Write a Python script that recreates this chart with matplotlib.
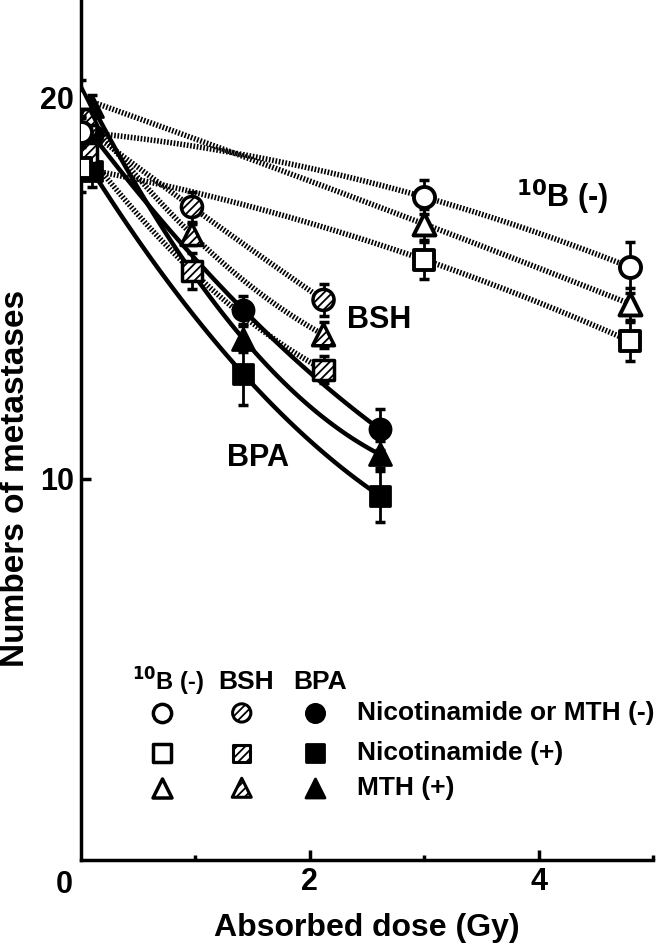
import numpy as np
import matplotlib
matplotlib.use("Agg")
import matplotlib.pyplot as plt
from matplotlib.ticker import FixedLocator, FixedFormatter, NullLocator

plt.rcParams['font.family'] = ['Liberation Sans', 'DejaVu Sans']
plt.rcParams['font.weight'] = 'bold'
plt.rcParams['hatch.linewidth'] = 1.3

# doses (Gy) for each boron group
dose_10b = [0.0, 3.0, 4.8]
dose_bsh = [0.05, 0.97, 2.12]
dose_bpa = [0.1, 1.42, 2.61]

# numbers of metastases: circle = Nicotinamide or MTH (-), square = Nicotinamide (+), triangle = MTH (+)
b10_circle = [18.8, 16.7, 14.7]
b10_square = [17.6, 14.9, 12.85]
b10_triangle = [20.0, 15.9, 13.75]
bsh_circle = [18.9, 16.4, 13.85]
bsh_square = [18.1, 14.6, 12.2]
bsh_triangle = [19.4, 15.6, 13.0]
bpa_circle = [18.7, 13.6, 10.95]
bpa_square = [17.5, 12.1, 9.7]
bpa_triangle = [19.7, 12.9, 10.46]

# error bars
b10_circle_err = [0.5, 0.52, 0.68]
b10_square_err = [0.75, 0.5, 0.45]
b10_triangle_err = [0.65, 0.45, 0.4]
bsh_circle_err = [0.4, 0.45, 0.4]
bsh_square_err = [0.4, 0.48, 0.3]
bsh_triangle_err = [0.4, 0.3, 0.3]
bpa_circle_err = [0.4, 0.35, 0.4]
bpa_square_err = [0.5, 0.65, 0.45]
bpa_triangle_err = [0.4, 0.3, 0.25]

fig = plt.figure(figsize=(6.64, 9.43), dpi=100)
ax = fig.add_axes([81 / 664, 83 / 943, 572 / 664, 860 / 943])
ax.set_yscale('log')

groups = [
    (dose_bpa, bpa_circle, bpa_circle_err, 'o', 'filled'),
    (dose_bpa, bpa_square, bpa_square_err, 's', 'filled'),
    (dose_bpa, bpa_triangle, bpa_triangle_err, '^', 'filled'),
    (dose_bsh, bsh_circle, bsh_circle_err, 'o', 'hatched'),
    (dose_bsh, bsh_square, bsh_square_err, 's', 'hatched'),
    (dose_bsh, bsh_triangle, bsh_triangle_err, '^', 'hatched'),
    (dose_10b, b10_circle, b10_circle_err, 'o', 'open'),
    (dose_10b, b10_square, b10_square_err, 's', 'open'),
    (dose_10b, b10_triangle, b10_triangle_err, '^', 'open'),
]

sizes = {'o': 230, 's': 210, '^': 250}
zbase = {'filled': 4, 'hatched': 6, 'open': 8}

for d, v, e, m, style in groups:
    d = np.array(d)
    v = np.array(v)
    # fitted curve (quadratic in log space)
    coef = np.polyfit(d, np.log(v), 2)
    xs = np.linspace(d.min(), d.max(), 100)
    ys = np.exp(np.polyval(coef, xs))
    if style == 'filled':
        ax.plot(xs, ys, color='black', lw=3.2, zorder=2, solid_capstyle='round')
    else:
        ax.plot(xs, ys, color='black', lw=4, linestyle=(0, (0.3, 0.3)),
                dash_capstyle='butt', zorder=1)
    ax.errorbar(d, v, yerr=e, fmt='none', ecolor='black', elinewidth=2,
                capsize=3.5, capthick=2.5, zorder=zbase[style] - 1)
    if style == 'filled':
        ax.scatter(d, v, s=sizes[m], marker=m, facecolor='black',
                   edgecolor='black', linewidths=2, zorder=zbase[style])
    elif style == 'hatched':
        ax.scatter(d, v, s=sizes[m], marker=m, facecolor='white',
                   edgecolor='black', hatch='////', linewidths=2.5,
                   zorder=zbase[style])
    else:
        ax.scatter(d, v, s=sizes[m], marker=m, facecolor='white',
                   edgecolor='black', linewidths=2.8, zorder=zbase[style])

ax.set_xlim(0, 5)
ax.set_ylim(5, 23.9)

ax.spines['top'].set_visible(False)
ax.spines['right'].set_visible(False)
ax.spines['left'].set_linewidth(2.5)
ax.spines['bottom'].set_linewidth(2.5)

ax.yaxis.set_major_locator(FixedLocator([10, 20]))
ax.yaxis.set_major_formatter(FixedFormatter(['10', '20']))
ax.yaxis.set_minor_locator(NullLocator())
ax.xaxis.set_major_locator(FixedLocator([2, 4]))
ax.xaxis.set_major_formatter(FixedFormatter(['2', '4']))
ax.xaxis.set_minor_locator(FixedLocator([1, 3, 5]))
ax.tick_params(axis='both', which='major', direction='in', length=7, width=2.5,
               labelsize=22, pad=5)
ax.tick_params(axis='x', which='minor', direction='in', length=3.5, width=2.5)
ax.text(-0.03, -0.012, '0', transform=ax.transAxes, ha='center', va='top',
        fontsize=22, fontweight='bold')

ax.set_xlabel('Absorbed dose (Gy)', fontsize=23, fontweight='bold')
ax.xaxis.set_label_coords(0.5, -0.0884)
ax.xaxis.label.set_verticalalignment('baseline')
ax.set_ylabel('Numbers of metastases', fontsize=24, fontweight='bold')
ax.yaxis.set_label_coords(-0.115, 0.444)
ax.yaxis.label.set_verticalalignment('center')

# curve labels
ax.text(0.841, 0.771, '$^{\\mathbf{10}}$B (-)', transform=ax.transAxes,
        ha='center', va='center', fontsize=22, fontweight='bold')
ax.text(0.521, 0.628, 'BSH', transform=ax.transAxes, ha='center', va='center',
        fontsize=22, fontweight='bold')
ax.text(0.309, 0.467, 'BPA', transform=ax.transAxes, ha='center', va='center',
        fontsize=22, fontweight='bold')

# legend table
head_y = 0.207
ax.text(0.153, head_y, '$^{\\mathbf{10}}$B (-)', transform=ax.transAxes,
        ha='center', va='center', fontsize=17, fontweight='bold')
ax.text(0.289, head_y, 'BSH', transform=ax.transAxes, ha='center', va='center',
        fontsize=19, fontweight='bold')
ax.text(0.418, head_y, 'BPA', transform=ax.transAxes, ha='center', va='center',
        fontsize=19, fontweight='bold')
row_y = [0.171, 0.124, 0.084]
row_m = ['o', 's', '^']
row_txt = ['Nicotinamide or MTH (-)', 'Nicotinamide (+)', 'MTH (+)']
col_x = [0.142, 0.281, 0.409]
for ry, rm, rt in zip(row_y, row_m, row_txt):
    ax.scatter([col_x[0]], [ry], s=sizes[rm] * 0.75, marker=rm, facecolor='white',
               edgecolor='black', linewidths=2.5, transform=ax.transAxes, zorder=10)
    ax.scatter([col_x[1]], [ry], s=sizes[rm] * 0.75, marker=rm, facecolor='white',
               edgecolor='black', hatch='////', linewidths=2.2,
               transform=ax.transAxes, zorder=10)
    ax.scatter([col_x[2]], [ry], s=sizes[rm] * 0.75, marker=rm, facecolor='black',
               edgecolor='black', linewidths=2, transform=ax.transAxes, zorder=10)
    ax.text(0.4825, ry, rt, transform=ax.transAxes, ha='left', va='center',
            fontsize=19, fontweight='bold')

fig.savefig('out.png', dpi=100)
